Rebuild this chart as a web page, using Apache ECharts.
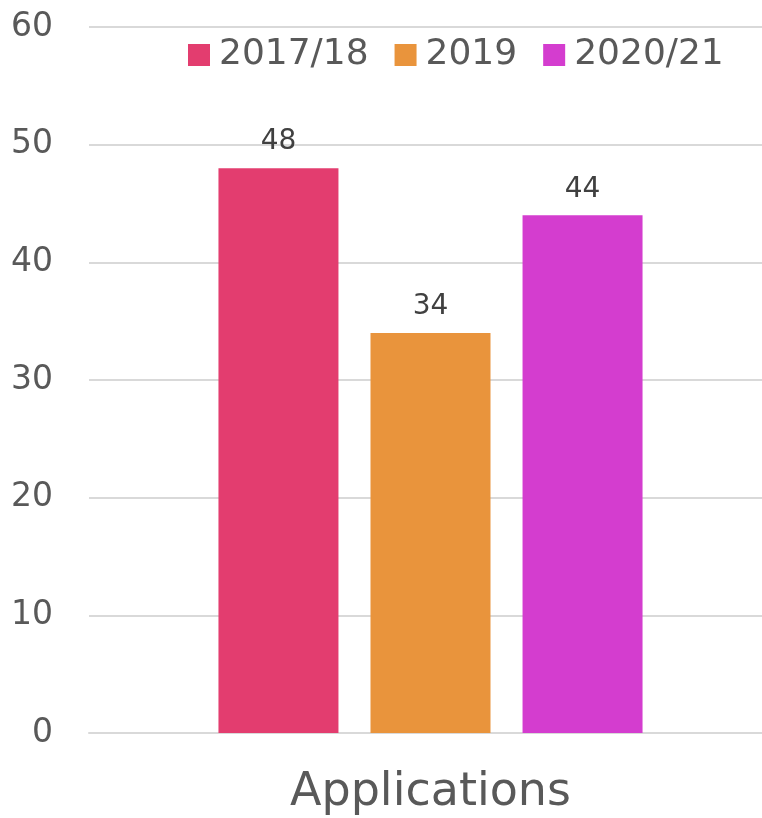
<!DOCTYPE html>
<html>
<head>
<meta charset="utf-8">
<title>Applications</title>
<script src="https://cdn.jsdelivr.net/npm/echarts@6/dist/echarts.min.js"></script>
<style>
  html, body { margin: 0; padding: 0; background: #fff; }
  #chart { width: 762px; height: 818px; }
</style>
</head>
<body>
<div id="chart"></div>
<script>
// 数据
var categories = ['Applications'];
var seriesNames = ['2017/18', '2019', '2020/21'];
var values2017 = [48];
var values2019 = [34];
var values2020 = [44];
var yTicks = [0, 10, 20, 30, 40, 50, 60];

var colors = ['#E33D6F', '#E9943C', '#D43DCF'];
var fontName = '"DejaVu Sans", sans-serif';

var myChart = echarts.init(document.getElementById('chart'));

function makeSeries(name, data, color) {
  return {
    name: name,
    type: 'bar',
    xAxisIndex: 1,
    yAxisIndex: 1,
    data: data,
    barWidth: 120,
    barGap: '26.7%',
    itemStyle: { color: color },
    label: {
      show: true,
      position: 'top',
      distance: 12,
      color: '#404040',
      fontSize: 28,
      fontFamily: fontName
    }
  };
}

var yMin = yTicks[0];
var yMax = yTicks[yTicks.length - 1];

var option = {
  animation: false,
  color: colors,
  legend: {
    left: 183,
    top: 32,
    icon: 'rect',
    itemWidth: 22,
    itemHeight: 22,
    itemGap: 26,
    data: seriesNames,
    textStyle: {
      color: '#595959',
      fontSize: 36,
      fontFamily: fontName,
      padding: [0, 0, 0, 4]
    }
  },
  // 网格0：坐标轴和分隔线；网格1：柱子（中心略靠右）
  grid: [
    { left: 89, top: 27, right: 0, bottom: 85 },
    { left: 99, top: 27, right: 0, bottom: 85 }
  ],
  xAxis: [
    {
      type: 'category',
      gridIndex: 0,
      data: categories,
      axisTick: { show: false },
      axisLabel: { show: false },
      axisLine: { lineStyle: { color: '#D9D9D9', width: 2 } }
    },
    {
      type: 'category',
      gridIndex: 1,
      data: categories,
      axisTick: { show: false },
      axisLine: { show: false },
      axisLabel: {
        color: '#595959',
        fontSize: 46,
        fontFamily: fontName,
        margin: 37
      }
    }
  ],
  yAxis: [
    {
      type: 'value',
      gridIndex: 0,
      min: yMin,
      max: yMax,
      interval: 10,
      axisLine: { show: false },
      axisTick: { show: false },
      splitLine: { lineStyle: { color: '#D9D9D9', width: 2 } },
      axisLabel: {
        color: '#595959',
        fontSize: 33,
        fontFamily: fontName,
        margin: 36
      }
    },
    {
      type: 'value',
      gridIndex: 1,
      min: yMin,
      max: yMax,
      interval: 10,
      show: false,
      splitLine: { show: false }
    }
  ],
  series: [
    makeSeries(seriesNames[0], values2017, colors[0]),
    makeSeries(seriesNames[1], values2019, colors[1]),
    makeSeries(seriesNames[2], values2020, colors[2])
  ]
};

myChart.setOption(option);
</script>
</body>
</html>
